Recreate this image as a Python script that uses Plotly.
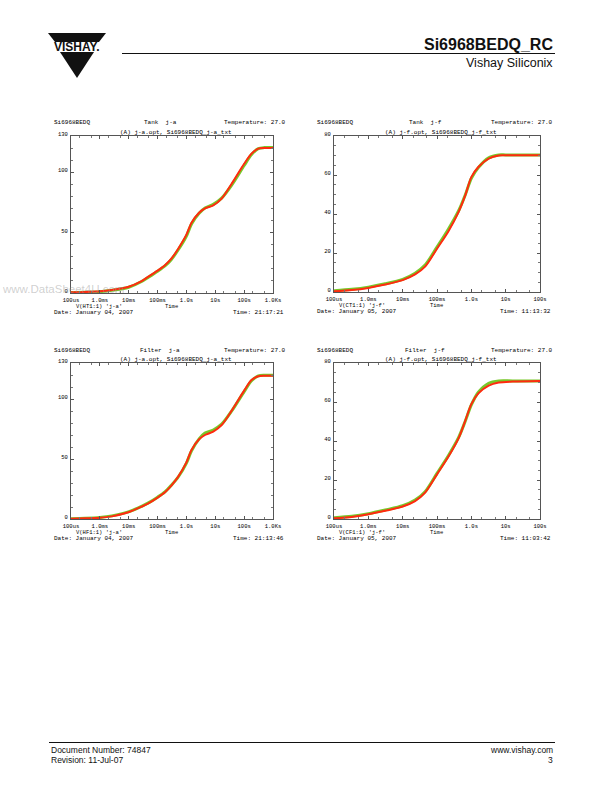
import plotly.graph_objects as go

W, H = 612, 792

# ---------------- data ----------------
# Chart 1: Tank j-a
t_tank_ja = [1e-4, 3e-4, 1e-3, 2.6e-3, 1e-2, 2.8e-2, 4.8e-2, 1e-1, 0.18, 0.3, 0.52, 1.0, 1.5,
             2.75, 4.4, 8.5, 16.6, 37, 100, 180, 310, 500, 1000]
red_tank_ja = [0.55, 0.8, 1.4, 2.5, 5.2, 9.9, 13.5, 18.5, 23, 28.4, 36.7, 48.3, 58.2,
               66.5, 70.1, 72.6, 78.1, 90.5, 107, 115.4, 119.5, 120, 120]
green_tank_ja = [0.4, 0.6, 1.1, 2.2, 4.8, 9.5, 13.0, 18.0, 22.4, 27.8, 35.8, 47.2, 57.2,
                 66.0, 70.4, 73.4, 78.6, 89.4, 105.6, 114.6, 119.6, 120.4, 120.4]

# Chart 2: Tank j-f
t_tank_jf = [1e-4, 3.3e-4, 1e-3, 3.1e-3, 1e-2, 2.3e-2, 4.5e-2, 1e-1, 0.216, 0.43, 0.66, 1.0,
             1.6, 3.2, 6.3, 10, 100]
red_tank_jf = [0.35, 1.0, 2.1, 3.8, 6.1, 9.0, 13.0, 22.2, 31.2, 41.2, 49.4, 58.9,
               64.1, 68.4, 70.0, 70.1, 70.1]
green_tank_jf = [0.7, 1.4, 2.5, 4.2, 6.5, 9.6, 13.8, 23.0, 32.3, 41.8, 49.6, 58.3,
                 63.8, 68.8, 70.3, 70.3, 70.3]

# Chart 3: Filter j-a
t_filt_ja = [1e-4, 3e-4, 1e-3, 2.6e-3, 9.7e-3, 2.8e-2, 4.8e-2, 1e-1, 0.18, 0.3, 0.52, 1.0, 1.5,
             2.75, 4.4, 8.5, 16.6, 37, 100, 180, 310, 500, 1000]
red_filt_ja = [0.3, 0.55, 1.1, 2.2, 5.6, 10.3, 13.0, 17.8, 22.2, 27.8, 35.3, 47.2, 57.5,
               66.4, 70.0, 72.8, 78.3, 90.3, 107, 115.8, 119.0, 119.4, 119.4]
green_filt_ja = [0.3, 0.6, 1.3, 2.6, 5.9, 10.6, 13.4, 18.2, 22.6, 28.2, 35.0, 46.6, 56.8,
                 66.8, 71.6, 74.2, 79.0, 90.0, 106.2, 115.2, 119.2, 119.8, 119.8]

# Chart 4: Filter j-f
t_filt_jf = [1e-4, 3.3e-4, 1e-3, 3.1e-3, 1e-2, 2.3e-2, 4.5e-2, 1e-1, 0.216, 0.43, 0.66, 1.0,
             1.6, 3.2, 6.3, 16, 100]
red_filt_jf = [0.35, 1.0, 2.4, 4.2, 6.4, 9.2, 13.5, 22.9, 32.0, 41.6, 50.2, 58.9,
               64.4, 68.4, 70.0, 70.5, 70.8]
green_filt_jf = [0.7, 1.4, 2.7, 4.6, 6.8, 9.7, 14.0, 23.4, 32.6, 42.0, 50.0, 58.5,
                 65.0, 69.6, 70.8, 70.8, 70.8]

xtick_vals_ja = [1e-4, 1e-3, 1e-2, 1e-1, 1, 10, 100, 1000]
xtick_text_ja = ["100us", "1.0ms", "10ms", "100ms", "1.0s", "10s", "100s", "1.0Ks"]
xtick_vals_jf = [1e-4, 1e-3, 1e-2, 1e-1, 1, 10, 100]
xtick_text_jf = ["100us", "1.0ms", "10ms", "100ms", "1.0s", "10s", "100s"]
ytick_ja = [0, 50, 100, 130]
ytick_jf = [0, 20, 40, 60, 80]

charts = [
    dict(t=t_tank_ja, red=red_tank_ja, green=green_tank_ja, title="Tank  j-a",
         sub="(A) j-a.opt, Si6968BEDQ_j-a_txt", legend="V(HT1:1) 'j-a'",
         date="Date: January 04, 2007", time="Time: 21:17:21",
         xv=xtick_vals_ja, xt=xtick_text_ja, xr=[-4, 3], yv=ytick_ja, yr=[0, 130], ym=10,
         box=(71, 273, 136, 293)),
    dict(t=t_tank_jf, red=red_tank_jf, green=green_tank_jf, title="Tank  j-f",
         sub="(A) j-f.opt, Si6968BEDQ_j-f_txt", legend="V(CT1:1) 'j-f'",
         date="Date: January 05, 2007", time="Time: 11:13:32",
         xv=xtick_vals_jf, xt=xtick_text_jf, xr=[-4, 2], yv=ytick_jf, yr=[0, 80], ym=5,
         box=(334, 540, 136, 292)),
    dict(t=t_filt_ja, red=red_filt_ja, green=green_filt_ja, title="Filter  j-a",
         sub="(A) j-a.opt, Si6968BEDQ_j-a_txt", legend="V(HF1:1) 'j-a'",
         date="Date: January 04, 2007", time="Time: 21:13:46",
         xv=xtick_vals_ja, xt=xtick_text_ja, xr=[-4, 3], yv=ytick_ja, yr=[0, 130], ym=10,
         box=(71, 273, 363, 519)),
    dict(t=t_filt_jf, red=red_filt_jf, green=green_filt_jf, title="Filter  j-f",
         sub="(A) j-f.opt, Si6968BEDQ_j-f_txt", legend="V(CF1:1) 'j-f'",
         date="Date: January 05, 2007", time="Time: 11:03:42",
         xv=xtick_vals_jf, xt=xtick_text_jf, xr=[-4, 2], yv=ytick_jf, yr=[0, 80], ym=5,
         box=(334, 540, 363, 519)),
]


def px(x):
    return x / W


def py(y):
    return 1 - y / H


MONO = "Liberation Mono"
SANS = "Liberation Sans"
GREEN = "#78c82a"
RED = "#ff2a10"
TXT = "#000000"

fig = go.Figure()
annotations = []
layout_axes = {}

for i, c in enumerate(charts, start=1):
    xa = "x" if i == 1 else f"x{i}"
    ya = "y" if i == 1 else f"y{i}"
    fig.add_trace(go.Scatter(x=c["t"], y=c["green"], mode="lines", xaxis=xa, yaxis=ya,
                             line=dict(color=GREEN, width=3, shape="spline", smoothing=0.8),
                             showlegend=False, hoverinfo="skip"))
    fig.add_trace(go.Scatter(x=c["t"], y=c["red"], mode="lines", xaxis=xa, yaxis=ya,
                             line=dict(color=RED, width=2, shape="spline", smoothing=0.8),
                             showlegend=False, hoverinfo="skip"))
    x0, x1, y0, y1 = c["box"]
    xname = "xaxis" if i == 1 else f"xaxis{i}"
    yname = "yaxis" if i == 1 else f"yaxis{i}"
    layout_axes[xname] = dict(
        type="log", range=c["xr"], domain=[px(x0), px(x1)], anchor=ya,
        tickvals=c["xv"], ticktext=c["xt"], ticks="inside", ticklen=3, tickcolor="#555",
        showline=True, linecolor="#555", linewidth=1, mirror="ticks", showgrid=False,
        zeroline=False, tickfont=dict(family=MONO, size=5.5, color=TXT),
        minor=dict(ticks="inside", ticklen=2, tickcolor="#777", dtick="D2", showgrid=False),
        ticklabelstandoff=1, automargin=False)
    layout_axes[yname] = dict(
        range=c["yr"], domain=[py(y1), py(y0)], anchor=xa,
        tickvals=c["yv"], ticks="inside", ticklen=3, tickcolor="#555",
        showline=True, linecolor="#555", linewidth=1, mirror="ticks", showgrid=False,
        zeroline=False, tickfont=dict(family=MONO, size=5.5, color=TXT),
        minor=dict(ticks="inside", ticklen=2, tickcolor="#777", dtick=c["ym"], showgrid=False),
        ticklabelstandoff=1, ticklabelshift=-2, automargin=False)

    left = x0 - 19
    right = x1 + 15
    cx = (x0 + x1) / 2
    hy = y0 - 13
    sy = y0 - 3.5
    fy = y1 + 19
    items = [
        ("Si6968BEDQ", left, hy, "left", 6),
        (c["title"], cx - 12, hy, "center", 6),
        ("Temperature: 27.0", right, hy, "right", 6),
        (c["sub"], cx + 4, sy, "center", 6),
        (c["legend"], x0 + 3, y1 + 13, "left", 5.5),
        ("Time", cx - 1, y1 + 13, "center", 5.5),
        (c["date"], left, fy, "left", 6),
        (c["time"], right - 2, fy, "right", 6),
    ]
    for text, x, y, al, fs in items:
        annotations.append(dict(text=text, x=px(x), y=py(y), xref="paper", yref="paper",
                                xanchor=al, yanchor="middle", showarrow=False,
                                font=dict(family=MONO, size=fs, color=TXT)))

# Page header / footer
annotations += [
    dict(text="<b>Si6968BEDQ_RC</b>", x=px(555), y=py(45), xanchor="right", yanchor="middle",
         font=dict(family=SANS, size=16, color="#111")),
    dict(text="Vishay Siliconix", x=px(555), y=py(63), xanchor="right", yanchor="middle",
         font=dict(family=SANS, size=12.5, color="#111")),
    dict(text="<b>VISHAY.</b>", x=px(77), y=py(46.5), xanchor="center", yanchor="middle",
         font=dict(family=SANS, size=12, color="#111")),
    dict(text="Document Number: 74847", x=px(49), y=py(750), xanchor="left", yanchor="middle",
         font=dict(family=SANS, size=8.5, color="#111")),
    dict(text="Revision: 11-Jul-07", x=px(49), y=py(760), xanchor="left", yanchor="middle",
         font=dict(family=SANS, size=8.5, color="#111")),
    dict(text="www.vishay.com", x=px(555), y=py(750), xanchor="right", yanchor="middle",
         font=dict(family=SANS, size=8.5, color="#111")),
    dict(text="3", x=px(555), y=py(760), xanchor="right", yanchor="middle",
         font=dict(family=SANS, size=8.5, color="#111")),
    dict(text="www.DataSheet4U.com", x=px(0), y=py(289), xanchor="left", yanchor="middle",
         font=dict(family=SANS, size=11.5, color="rgba(150,150,150,0.45)")),
]
for a in annotations:
    a.setdefault("xref", "paper")
    a.setdefault("yref", "paper")
    a.setdefault("showarrow", False)


def path(points):
    s = "M " + " L ".join(f"{px(x)},{py(y)}" for x, y in points) + " Z"
    return s


shapes = [
    dict(type="line", xref="paper", yref="paper", x0=px(122), x1=px(555), y0=py(53.5), y1=py(53.5),
         line=dict(color="#111", width=1)),
    dict(type="line", xref="paper", yref="paper", x0=px(49), x1=px(555), y0=py(742.5), y1=py(742.5),
         line=dict(color="#111", width=1)),
    dict(type="path", xref="paper", yref="paper", path=path([(48, 33), (106, 33), (99, 42), (55, 42)]),
         fillcolor="#111", line=dict(width=0)),
    dict(type="path", xref="paper", yref="paper", path=path([(60, 52), (94, 52), (77, 78)]),
         fillcolor="#111", line=dict(width=0)),
]

fig.update_layout(
    width=W, height=H, margin=dict(l=0, r=0, t=0, b=0),
    paper_bgcolor="white", plot_bgcolor="white",
    annotations=annotations, shapes=shapes, showlegend=False,
    **layout_axes,
)

fig.write_html("out.html")
